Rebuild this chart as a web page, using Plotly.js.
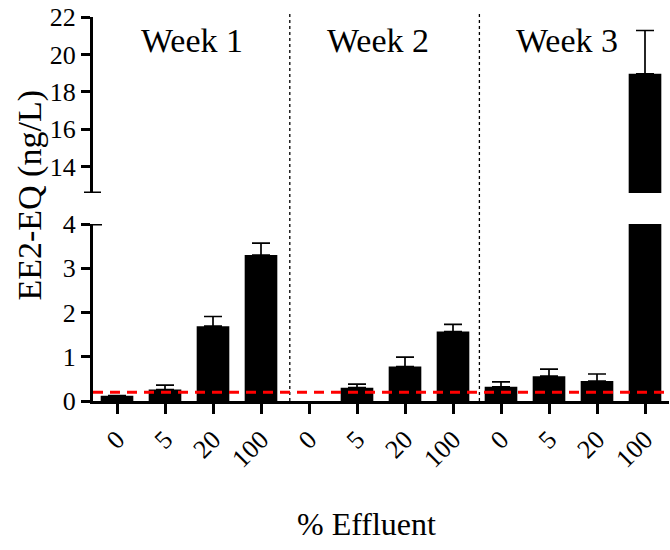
<!DOCTYPE html>
<html>
<head>
<meta charset="utf-8">
<script src="https://cdn.plot.ly/plotly-3.0.1.min.js"></script>
<style>html,body{margin:0;padding:0;background:#fff;}#chart{width:670px;height:550px;}</style>
</head>
<body>
<div id="chart"></div>
<script>
// Data
const tickLabels = ["0", "5", "20", "100", "0", "5", "20", "100", "0", "5", "20", "100"];
const weeks = ["Week 1", "Week 2", "Week 3"];
const means = [0.12, 0.26, 1.69, 3.30, null, 0.30, 0.78, 1.57, 0.32, 0.56, 0.45, 18.97];
const sem = [null, 0.10, 0.22, 0.27, null, 0.08, 0.21, 0.16, 0.11, 0.16, 0.16, 2.31];
const lod = 0.2;
const lowerTicks = [0, 1, 2, 3, 4];
const upperTicks = [14, 16, 18, 20, 22];

const xpos = tickLabels.map((_, i) => i);
const minus = sem.map(v => (v === null ? null : 0));
const FONT = "Liberation Serif";

function barTrace(yax) {
  return {
    type: "bar", x: xpos, y: means, yaxis: yax, width: 0.68,
    marker: {color: "#000000", line: {width: 0}},
    error_y: {type: "data", symmetric: false, array: sem, arrayminus: minus,
              color: "#000000", thickness: 1.7, width: 9},
    hoverinfo: "skip", showlegend: false
  };
}

function axisStyle() {
  return {
    showline: true, linewidth: 3, linecolor: "#000", ticks: "outside",
    ticklen: 9, tickwidth: 3, tickcolor: "#000", showgrid: false, zeroline: false,
    tickfont: {family: FONT, size: 26, color: "#000"}
  };
}

const layout = {
  width: 670, height: 550,
  margin: {l: 93, r: 1, t: 17, b: 149, pad: 0},
  paper_bgcolor: "#fff", plot_bgcolor: "#fff",
  barmode: "overlay", showlegend: false,
  font: {family: FONT, color: "#000"},
  xaxis: Object.assign(axisStyle(), {
    range: [-0.5, 11.5], tickvals: xpos, ticktext: tickLabels,
    tickangle: -45, ticklen: 10, anchor: "y"
  }),
  yaxis: Object.assign(axisStyle(), {
    domain: [0, 0.4609], range: [0, 4], tickvals: lowerTicks, anchor: "x"
  }),
  yaxis2: Object.assign(axisStyle(), {
    domain: [0.5417, 1], range: [12.6, 22], tickvals: upperTicks, anchor: "x"
  }),
  shapes: [
    {type: "line", xref: "paper", x0: 0, x1: 1, yref: "y", y0: lod, y1: lod,
     line: {color: "#ff0000", width: 3, dash: "10px,7px"}, layer: "above"},
    {type: "line", xref: "x", x0: 3.6, x1: 3.6, yref: "paper", y0: 0, y1: 1.01,
     line: {color: "#000", width: 1.3, dash: "dot"}, layer: "below"},
    {type: "line", xref: "x", x0: 7.55, x1: 7.55, yref: "paper", y0: 0, y1: 1.01,
     line: {color: "#000", width: 1.3, dash: "dot"}, layer: "below"},
    {type: "line", xref: "paper", xsizemode: "pixel", xanchor: 0, x0: -9, x1: 8,
     yref: "y2", y0: 12.6, y1: 12.6, line: {color: "#000", width: 3}},
    {type: "line", xref: "paper", xsizemode: "pixel", xanchor: 0, x0: -9, x1: 9,
     yref: "y", y0: 4, y1: 4, line: {color: "#000", width: 3}}
  ],
  annotations: [
    {text: weeks[0], xref: "x", x: 1.56, yref: "paper", y: 0.94, showarrow: false,
     font: {family: FONT, size: 34, color: "#000"}, xanchor: "center", yanchor: "middle"},
    {text: weeks[1], xref: "x", x: 5.44, yref: "paper", y: 0.94, showarrow: false,
     font: {family: FONT, size: 34, color: "#000"}, xanchor: "center", yanchor: "middle"},
    {text: weeks[2], xref: "x", x: 9.38, yref: "paper", y: 0.94, showarrow: false,
     font: {family: FONT, size: 34, color: "#000"}, xanchor: "center", yanchor: "middle"},
    {text: "EE2-EQ (ng/L)", xref: "paper", x: 0, xshift: -63, yref: "paper", y: 0.535,
     textangle: -90, showarrow: false, font: {family: FONT, size: 34, color: "#000"},
     xanchor: "center", yanchor: "middle"},
    {text: "% Effluent", xref: "paper", x: 0.474, yref: "paper", y: -0.32,
     showarrow: false, font: {family: FONT, size: 32, color: "#000"},
     xanchor: "center", yanchor: "middle"}
  ]
};

Plotly.newPlot("chart", [barTrace("y"), barTrace("y2")], layout, {displayModeBar: false, staticPlot: true});
</script>
</body>
</html>
